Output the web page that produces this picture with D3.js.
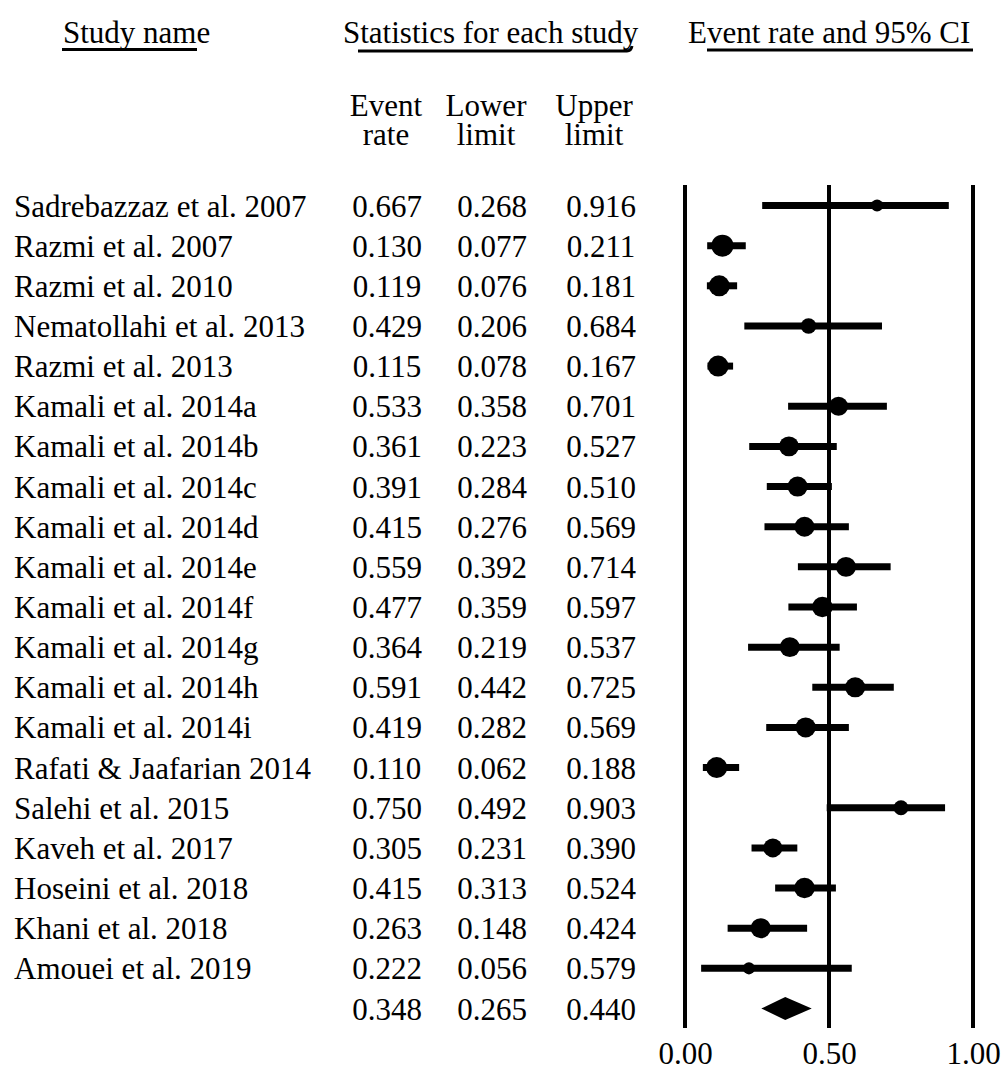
<!DOCTYPE html>
<html>
<head>
<meta charset="utf-8">
<script src="https://cdn.jsdelivr.net/npm/d3@7"></script>
<style>
    body { margin: 0; background: white; }
    svg text { font-family: "Liberation Serif", "Times New Roman", serif; fill: black; }
</style>
</head>
<body>
<div id="forest"></div>
<script>
// study data
const studies = [
    "Sadrebazzaz et al. 2007", "Razmi et al. 2007", "Razmi et al. 2010",
    "Nematollahi et al. 2013", "Razmi et al. 2013", "Kamali et al. 2014a",
    "Kamali et al. 2014b", "Kamali et al. 2014c", "Kamali et al. 2014d",
    "Kamali et al. 2014e", "Kamali et al. 2014f", "Kamali et al. 2014g",
    "Kamali et al. 2014h", "Kamali et al. 2014i", "Rafati & Jaafarian 2014",
    "Salehi et al. 2015", "Kaveh et al. 2017", "Hoseini et al. 2018",
    "Khani et al. 2018", "Amouei et al. 2019"
];
const eventRate = [0.667, 0.130, 0.119, 0.429, 0.115, 0.533, 0.361, 0.391, 0.415, 0.559,
                   0.477, 0.364, 0.591, 0.419, 0.110, 0.750, 0.305, 0.415, 0.263, 0.222];
const lowerLimit = [0.268, 0.077, 0.076, 0.206, 0.078, 0.358, 0.223, 0.284, 0.276, 0.392,
                    0.359, 0.219, 0.442, 0.282, 0.062, 0.492, 0.231, 0.313, 0.148, 0.056];
const upperLimit = [0.916, 0.211, 0.181, 0.684, 0.167, 0.701, 0.527, 0.510, 0.569, 0.714,
                    0.597, 0.537, 0.725, 0.569, 0.188, 0.903, 0.390, 0.524, 0.424, 0.579];
// relative study weight -> marker size
const weights = [0.33, 1.1, 1.0, 0.55, 1.0, 0.82, 0.9, 0.92, 0.9, 0.9,
                 0.95, 0.9, 0.92, 0.92, 1.0, 0.5, 0.82, 0.95, 0.92, 0.33];
const summary = { rate: 0.348, lower: 0.265, upper: 0.440 };
const axisTicks = [0, 0.5, 1];

const width = 1002, height = 1066, fontSize = 31;

const svg = d3.select('#forest')
    .append('svg')
        .attr('width', width)
        .attr('height', height);

const rows = studies.concat(["Summary"]);
const y = d3.scalePoint()
    .domain(rows)
    .range([205.5, 1008.5]);

const x = d3.scaleLinear()
    .domain([0, 1])
    .range([685, 973]);

const r = d3.scaleSqrt()
    .domain([0, 1])
    .range([0, 10.5]);

// headers
const header = svg.append('g').style('font-size', fontSize + 'px');
header.append('text').attr('x', 63).attr('y', 43).text('Study name');
header.append('text').attr('x', 343).attr('y', 43).text('Statistics for each study');
header.append('text').attr('x', 688).attr('y', 43).text('Event rate and 95% CI');

header.append('line')
    .attr('x1', 62).attr('x2', 197).attr('y1', 49.5).attr('y2', 49.5)
    .attr('stroke', 'black').attr('stroke-width', 3);
header.append('path')
    .attr('d', 'M358,51 L627,51 Q631,51 632,46')
    .attr('fill', 'none').attr('stroke', 'black').attr('stroke-width', 3);
header.append('line')
    .attr('x1', 707).attr('x2', 973).attr('y1', 50).attr('y2', 50)
    .attr('stroke', 'black').attr('stroke-width', 3);

const colX = [387, 492, 601];
const subHeads = [["Event", "rate"], ["Lower", "limit"], ["Upper", "limit"]];
const headX = [386, 486, 594];
subHeads.forEach((lines, i) => {
    header.append('text')
        .attr('x', headX[i]).attr('y', 116)
        .attr('text-anchor', 'middle')
        .text(lines[0]);
    header.append('text')
        .attr('x', headX[i]).attr('y', 145)
        .attr('text-anchor', 'middle')
        .text(lines[1]);
});

// table of numbers
const table = svg.append('g').style('font-size', fontSize + 'px');
table.selectAll('.name')
    .data(studies)
    .enter().append('text')
        .attr('class', 'name')
        .attr('x', 14)
        .attr('y', d => y(d) + 11)
        .text(d => d);

const cols = [eventRate.concat([summary.rate]), lowerLimit.concat([summary.lower]), upperLimit.concat([summary.upper])];
cols.forEach((vals, c) => {
    table.selectAll('.col' + c)
        .data(vals)
        .enter().append('text')
            .attr('class', 'col' + c)
            .attr('x', colX[c])
            .attr('y', (d, i) => y(rows[i]) + 11)
            .attr('text-anchor', 'middle')
            .text(d => d3.format('.3f')(d));
});

// vertical reference lines
svg.append('g').selectAll('line')
    .data(axisTicks)
    .enter().append('line')
        .attr('x1', d => x(d)).attr('x2', d => x(d))
        .attr('y1', 185).attr('y2', 1028)
        .attr('stroke', 'black')
        .attr('stroke-width', 4);

// confidence intervals
const plot = svg.append('g');
plot.selectAll('.ci')
    .data(studies)
    .enter().append('line')
        .attr('class', 'ci')
        .attr('x1', (d, i) => x(lowerLimit[i]))
        .attr('x2', (d, i) => x(upperLimit[i]))
        .attr('y1', d => y(d)).attr('y2', d => y(d))
        .attr('stroke', 'black')
        .attr('stroke-width', 7);

plot.selectAll('circle')
    .data(studies)
    .enter().append('circle')
        .attr('cx', (d, i) => x(eventRate[i]))
        .attr('cy', d => y(d))
        .attr('r', (d, i) => r(weights[i]))
        .attr('fill', 'black');

// summary diamond
const sy = y("Summary");
plot.append('path')
    .attr('d', `M${x(summary.lower)},${sy} L${x(summary.rate)},${sy - 11.5} L${x(summary.upper)},${sy} L${x(summary.rate)},${sy + 11.5} Z`)
    .attr('fill', 'black');

// axis labels
const xAxis = d3.axisBottom(x)
    .tickValues(axisTicks)
    .tickFormat(d3.format('.2f'))
    .tickSizeInner(0)
    .tickSizeOuter(0)
    .tickPadding(14);

svg.append('g')
    .attr('transform', 'translate(0,1028)')
    .call(xAxis)
    .call(g => g.select('.domain').remove())
    .selectAll('text')
        .style('font-size', fontSize + 'px')
        .style('font-family', '"Liberation Serif", serif')
        .attr('fill', 'black');
</script>
</body>
</html>
